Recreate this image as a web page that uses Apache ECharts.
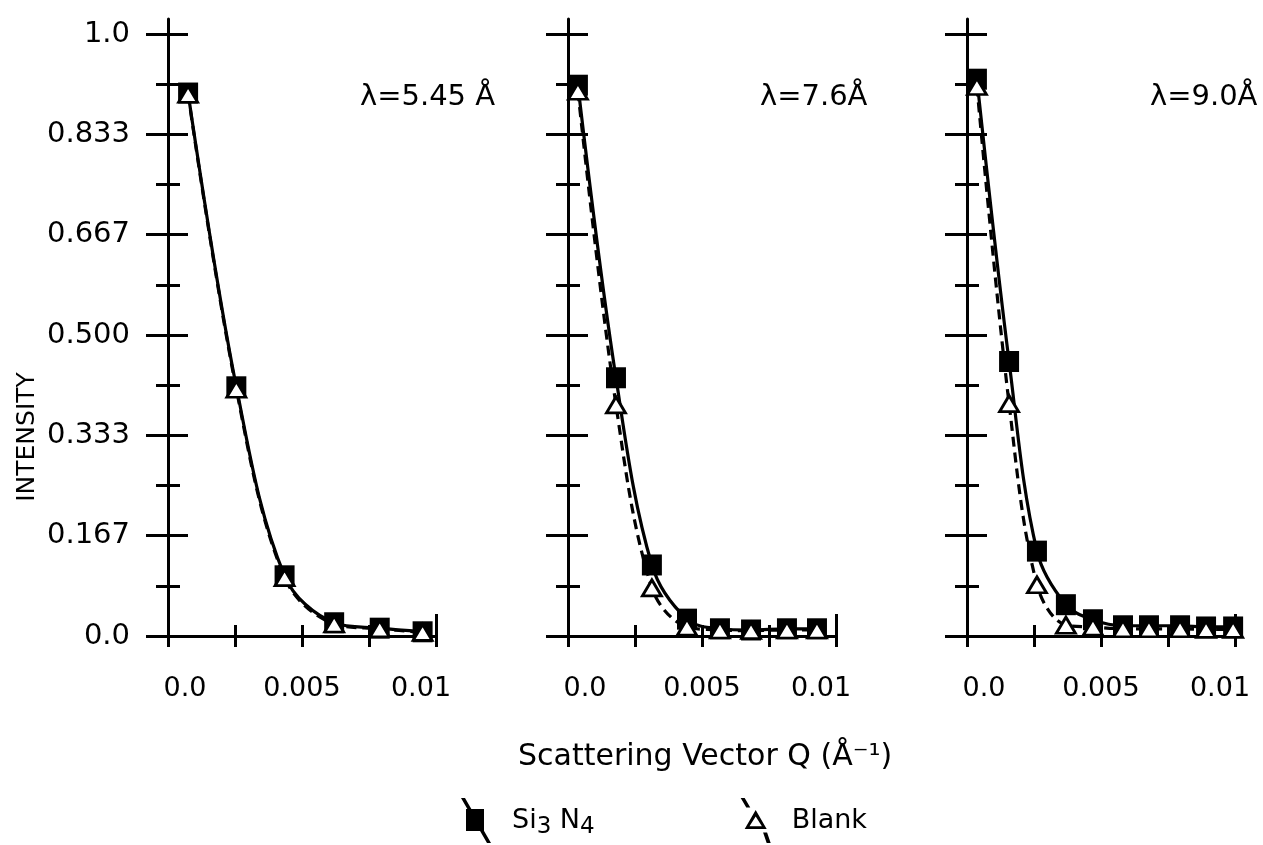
<!DOCTYPE html>
<html>
<head>
<meta charset="utf-8">
<script src="https://cdn.jsdelivr.net/npm/echarts@6/dist/echarts.min.js"></script>
<style>
  html, body { margin: 0; padding: 0; background: #fff; }
  #chart { width: 1263px; height: 845px; }
</style>
</head>
<body>
<div id="chart"></div>
<script>
// Panel headings (neutron wavelength)
const wavelengths = ['λ=5.45 Å', 'λ=7.6Å', 'λ=9.0Å'];

// λ = 5.45 Å
const q545 = [0.00075, 0.00255, 0.00435, 0.0062, 0.0079, 0.0095];
const si545 = [0.902, 0.414, 0.100, 0.022, 0.013, 0.007];
const blank545 = [0.900, 0.410, 0.097, 0.020, 0.012, 0.006];

// λ = 7.6 Å
const q76 = [0.00037, 0.00179, 0.00313, 0.00444, 0.00567, 0.00683, 0.00817, 0.00929];
const si76 = [0.915, 0.429, 0.118, 0.028, 0.012, 0.010, 0.012, 0.012];
const blank76 = [0.905, 0.384, 0.080, 0.015, 0.010, 0.009, 0.010, 0.010];

// λ = 9.0 Å
const q90 = [0.00037, 0.00157, 0.00261, 0.00369, 0.0047, 0.00582, 0.00679, 0.00795, 0.00892, 0.00993];
const si90 = [0.925, 0.456, 0.141, 0.052, 0.027, 0.017, 0.017, 0.017, 0.015, 0.015];
const blank90 = [0.913, 0.386, 0.085, 0.018, 0.015, 0.012, 0.012, 0.012, 0.011, 0.011];

// Axis ticks and labels
const yTickValues = [0, 1 / 6, 2 / 6, 3 / 6, 4 / 6, 5 / 6, 1];
const yTickLabels = ['0.0', '0.167', '0.333', '0.500', '0.667', '0.833', '1.0'];
const yMinorValues = [1 / 12, 3 / 12, 5 / 12, 7 / 12, 9 / 12, 11 / 12];
const xTickValues = [0, 0.0025, 0.005, 0.0075, 0.01];
const xLabelValues = [0, 0.005, 0.01];
const xTickLabels = ['0.0', '0.005', '0.01'];

const FONT = 'DejaVu Sans';
const INK = '#000';
const AXIS_W = 3;

const panels = [
  { q: q545, si: si545, blank: blank545, left: 168, head: 355 },
  { q: q76, si: si76, blank: blank76, left: 568, head: 755 },
  { q: q90, si: si90, blank: blank90, left: 967, head: 1145 }
];

const pair = (xs, ys) => xs.map((x, i) => [x, ys[i]]);
const nearestIndex = (arr, v) => {
  let best = 0;
  arr.forEach((a, i) => { if (Math.abs(a - v) < Math.abs(arr[best] - v)) best = i; });
  return best;
};
const tickStyle = { color: INK, width: AXIS_W };

const grids = [], xAxes = [], yAxes = [], series = [], titles = [];

panels.forEach((p, gi) => {
  grids.push({ left: p.left, top: 19, width: 268, height: 617 });
  titles.push({
    text: wavelengths[gi], left: p.head, top: 78,
    textStyle: { fontFamily: FONT, fontSize: 29, fontWeight: 'normal', color: INK }
  });

  const xBase = { gridIndex: gi, type: 'value', min: 0, max: 0.01, interval: 0.0025,
    splitLine: { show: false }, position: 'bottom' };
  // main x axis: line, outward ticks, labels
  xAxes.push(Object.assign({}, xBase, {
    axisLine: { show: true, lineStyle: { color: INK, width: AXIS_W } },
    axisTick: { show: true, length: 11, customValues: xTickValues, lineStyle: tickStyle },
    axisLabel: {
      show: true, customValues: xLabelValues, margin: 39,
      color: INK, fontFamily: FONT, fontSize: 27,
      formatter: v => {
        const i = nearestIndex(xLabelValues, v);
        const key = i === 0 ? 'l' : (i === xLabelValues.length - 1 ? 'r' : 'c');
        return '{' + key + '|' + xTickLabels[i] + '}';
      },
      rich: {
        l: { fontFamily: FONT, fontSize: 27, color: INK, padding: [0, 0, 0, 34] },
        c: { fontFamily: FONT, fontSize: 27, color: INK },
        r: { fontFamily: FONT, fontSize: 27, color: INK, padding: [0, 30, 0, 0] }
      }
    }
  }));
  // inward half of the crossing ticks
  xAxes.push(Object.assign({}, xBase, {
    axisLine: { show: false },
    axisTick: { show: true, inside: true, length: 11, customValues: xTickValues, lineStyle: tickStyle },
    axisLabel: { show: false }
  }));
  // taller closing tick at the end of the axis
  xAxes.push(Object.assign({}, xBase, {
    axisLine: { show: false },
    axisTick: { show: true, inside: true, length: 22, customValues: [0.01], lineStyle: tickStyle },
    axisLabel: { show: false }
  }));

  const yBase = { gridIndex: gi, type: 'value', min: 0, max: 1.025, position: 'left',
    splitLine: { show: false } };
  yAxes.push(Object.assign({}, yBase, {
    axisLine: { show: true, lineStyle: { color: INK, width: AXIS_W } },
    axisTick: { show: true, length: 22, customValues: yTickValues, lineStyle: tickStyle },
    axisLabel: {
      show: gi === 0, customValues: yTickValues, margin: 38,
      color: INK, fontFamily: FONT, fontSize: 29,
      formatter: v => yTickLabels[nearestIndex(yTickValues, v)]
    }
  }));
  yAxes.push(Object.assign({}, yBase, {
    axisLine: { show: false },
    axisTick: { show: true, inside: true, length: 20, customValues: yTickValues, lineStyle: tickStyle },
    axisLabel: { show: false }
  }));
  yAxes.push(Object.assign({}, yBase, {
    axisLine: { show: false },
    axisTick: { show: true, length: 12, customValues: yMinorValues, lineStyle: tickStyle },
    axisLabel: { show: false }
  }));
  yAxes.push(Object.assign({}, yBase, {
    axisLine: { show: false },
    axisTick: { show: true, inside: true, length: 12, customValues: yMinorValues, lineStyle: tickStyle },
    axisLabel: { show: false }
  }));

  series.push({
    name: 'Si₃ N₄', type: 'line', xAxisIndex: gi * 3, yAxisIndex: gi * 4,
    data: pair(p.q, p.si), smooth: 0.35,
    symbol: 'rect', symbolSize: [20, 21],
    itemStyle: { color: INK },
    lineStyle: { color: INK, width: 3.2, type: 'solid' },
    z: 2
  });
  series.push({
    name: 'Blank', type: 'line', xAxisIndex: gi * 3, yAxisIndex: gi * 4,
    data: pair(p.q, p.blank), smooth: 0.35,
    symbol: 'triangle', symbolSize: [19, 16],
    itemStyle: { color: '#fff', borderColor: INK, borderWidth: 2.8 },
    lineStyle: { color: INK, width: 3.2, type: [10, 6] },
    z: 3
  });
});

titles.push({
  text: 'Scattering Vector Q (Å⁻¹)', left: 513, top: 737,
  textStyle: { fontFamily: FONT, fontSize: 30, fontWeight: 'normal', color: INK }
});

// Legend keys: marker crossed by a slanted stroke (solid / broken)
const siIcon = 'path://M0 0L4 0L30 45L26 45Z M5 11L23 11L23 33L5 33Z';
const blankIcon = 'path://M0 0L4 0L9.6 9.5L5.6 9.5Z M15 12L26 31L4 31Z M15 18.5L8.8 28.2L21.2 28.2Z M22.4 34.5L26.4 34.5L30 45L26 45Z';

const option = {
  animation: false,
  backgroundColor: '#fff',
  textStyle: { fontFamily: FONT, color: INK },
  title: titles,
  legend: {
    left: 461, top: 798, padding: 0,
    itemWidth: 30, itemHeight: 45, itemGap: 146,
    selectedMode: false,
    formatter: name => name === 'Blank' ? name : 'Si{s|3} N{s|4}',
    textStyle: {
      fontFamily: FONT, fontSize: 27, color: INK, padding: [0, 0, 0, 16],
      rich: { s: { fontFamily: FONT, fontSize: 23, color: INK, padding: [14, 0, 0, 0] } }
    },
    data: [
      { name: 'Si₃ N₄', icon: siIcon, itemStyle: { color: INK, borderWidth: 0 } },
      { name: 'Blank', icon: blankIcon, itemStyle: { color: INK, borderWidth: 0 } }
    ]
  },
  graphic: [{
    type: 'text', x: 27, y: 437, rotation: Math.PI / 2,
    style: { text: 'INTENSITY', fill: INK, font: '25px "DejaVu Sans"', align: 'center', verticalAlign: 'middle' }
  }],
  grid: grids,
  xAxis: xAxes,
  yAxis: yAxes,
  series: series
};

const chart = echarts.init(document.getElementById('chart'), null, { renderer: 'canvas' });
chart.setOption(option);
</script>
</body>
</html>
